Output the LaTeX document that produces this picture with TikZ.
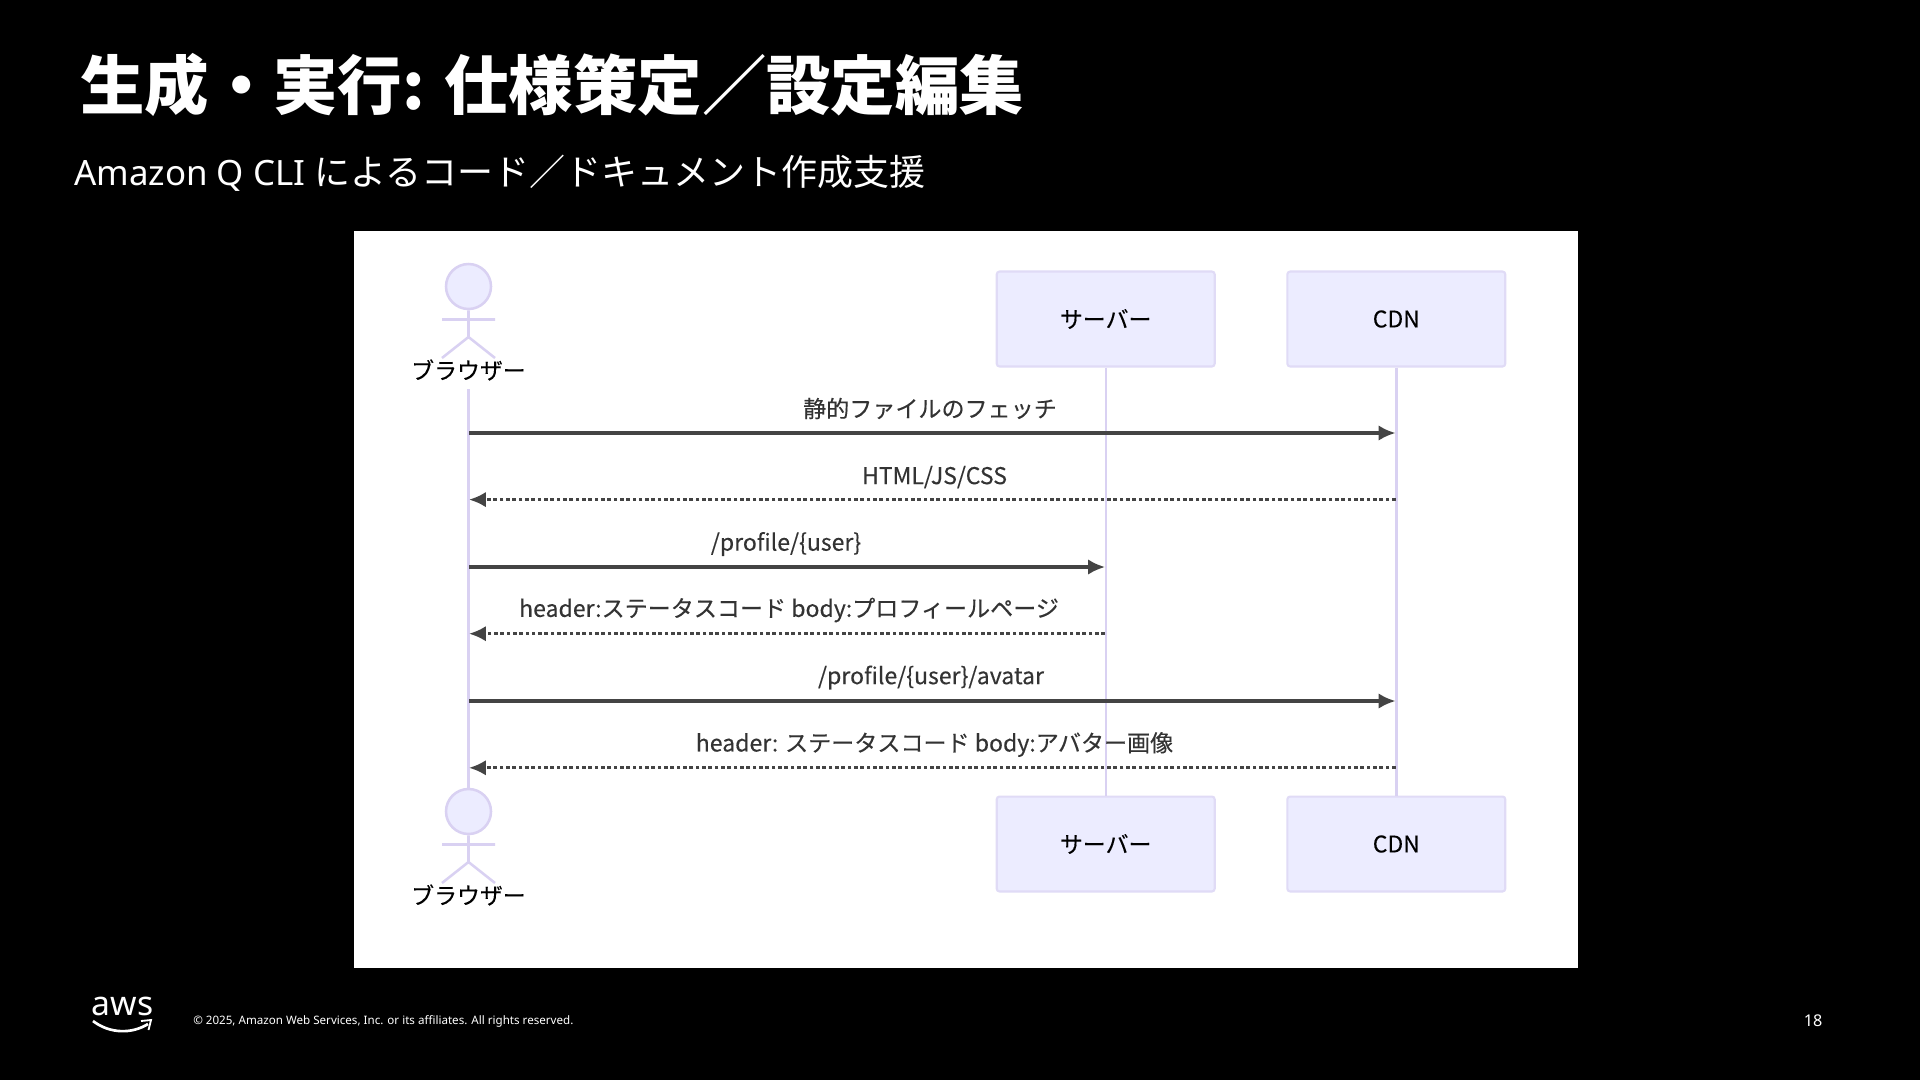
\documentclass[tikz,border=0pt]{standalone}
\usepackage{fontspec}
\setmainfont{Noto Sans CJK JP}
\newfontfamily\latfont{Noto Sans}
\newfontfamily\heavyfont[FakeBold=0.25]{Noto Sans CJK JP}
\usepackage{xcolor}
\usetikzlibrary{arrows.meta}
\definecolor{actorfill}{HTML}{ECECFF}
\definecolor{actorline}{HTML}{D9D1F2}
\definecolor{boxline}{HTML}{E0DBF6}
\definecolor{msgline}{HTML}{444444}

\begin{document}
\begin{tikzpicture}[x=0.025cm,y=-0.025cm,
  box/.style={draw=boxline,fill=actorfill,line width=1.5pt,rounded corners=2pt,
    minimum width=155pt,minimum height=67.5pt,inner sep=0pt,font=\heavyfont\fontsize{16.3}{18}\selectfont},
  head/.style={circle,draw=actorline,fill=actorfill,line width=1.8pt,minimum size=32pt,inner sep=0pt},
  stick/.style={draw=actorline,line width=1.8pt},
  life/.style={draw=actorline,line width=1.7pt},
  actorname/.style={inner sep=0pt,font=\heavyfont\fontsize{16.3}{18}\selectfont},
  msg/.style={draw=msgline,line width=2.2pt,-{Latex[length=12pt,width=11pt]}},
  reply/.style={msg,dash pattern=on 2.6pt off 1.9pt},
  msgtext/.style={inner sep=0pt,text=black!80,font=\heavyfont\fontsize{16.4}{18}\selectfont}]
  % page and panel
  \fill[black] (0,0) rectangle (1920,1080);
  \fill[white] (354,231) rectangle (1578,968);
  % heading
  \node[anchor=west,inner sep=0pt,text=white,font=\fontsize{45.8}{50}\selectfont\bfseries] (title) at (80,85)
    {生成・実行: 仕様策定／設定編集};
  \node[anchor=west,inner sep=0pt,text=white,font=\fontsize{25.6}{30}\selectfont] (subtitle) at (74,173)
    {{\latfont\fontsize{24.8}{30}\selectfont Amazon Q CLI }によるコード／ドキュメント作成支援};
  % participants
  \node[head] (headtop) at (468.5,286.5) {};
  \node[actorname] (browsertop) at (468.5,370) {ブラウザー};
  \node[box] (servertop) at (1105.7,319) {\raisebox{-1pt}{サーバー}};
  \node[box] (cdntop) at (1396.3,319) {\raisebox{-1pt}{CDN}};
  \node[head] (headbot) at (468.5,811.5) {};
  \node[actorname] (browserbot) at (468.5,895) {ブラウザー};
  \node[box] (serverbot) at (1105.7,844) {\raisebox{-1pt}{サーバー}};
  \node[box] (cdnbot) at (1396.3,844) {\raisebox{-1pt}{CDN}};
  % stick figures
  \draw[stick] (headtop.south) -- (468.5,337) -- (442,358) (468.5,337) -- (495,358) (442,319.5) -- (495,319.5);
  \draw[stick] (headbot.south) -- (468.5,862) -- (442,883) (468.5,862) -- (495,883) (442,844.5) -- (495,844.5);
  % lifelines
  \coordinate (lifetop) at (468.5,389);
  \coordinate (lifebot) at (468.5,788);
  \draw[life] (lifetop) -- (lifebot);
  \draw[life] (servertop) -- (serverbot);
  \draw[life] (cdntop) -- (cdnbot);
  % message ends
  \foreach \row/\ypos in {1/433,2/499.6,3/567,4/633.7,5/701,6/767.8} {
    \coordinate (b\row) at (469,\ypos);
    \coordinate (s\row) at (1105,\ypos);
    \coordinate (c\row) at (1395.5,\ypos);
  }
  % messages
  \draw[msg] (b1) -- (c1);
  \draw[reply] (c2) -- (b2);
  \draw[msg] (b3) -- (s3);
  \draw[reply] (s4) -- (b4);
  \draw[msg] (b5) -- (c5);
  \draw[reply] (c6) -- (b6);
  % message labels
  \node[msgtext] (label1) at (930,408.5) {静的ファイルのフェッチ};
  \node[msgtext] (label2) at (934.5,477) {HTML/JS/CSS};
  \node[msgtext] (label3) at (786,544) {/profile/\{user\}};
  \node[msgtext] (label4) at (789,610) {header:ステータスコード body:プロフィールページ};
  \node[msgtext] (label5) at (931,677.5) {/profile/\{user\}/avatar};
  \node[msgtext] (label6) at (934.5,744.5) {header: ステータスコード body:アバター画像};
  % footer
  \node[inner sep=0pt,text=white,font=\latfont\fontsize{24}{26}\selectfont] (awsword) at (122.5,1006) {aws};
  \coordinate (smileleft) at (93,1021);
  \coordinate (smileright) at (148,1024);
  \draw[white,line width=1.9pt] (smileleft) .. controls (110,1034) and (132,1034) .. (smileright);
  \draw[white,line width=1.3pt] (141,1021) -- (151,1020) -- (148.5,1030);
  \node[anchor=west,inner sep=0pt,text=white,font=\latfont\fontsize{8.25}{10}\selectfont] (rights) at (193,1021)
    {© 2025, Amazon Web Services, Inc. or its affiliates. All rights reserved.};
  \node[inner sep=0pt,text=white,font=\latfont\fontsize{11.5}{13}\selectfont] (pagenum) at (1813,1020.5) {18};
\end{tikzpicture}
\end{document}
